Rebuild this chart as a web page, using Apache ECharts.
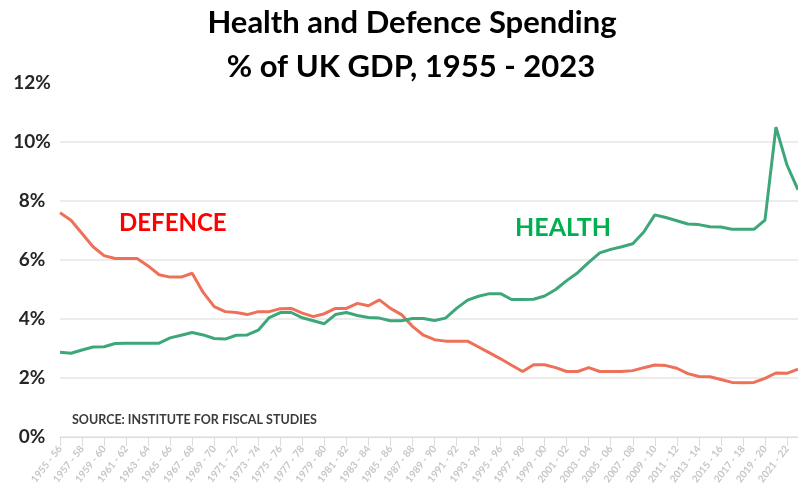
<!DOCTYPE html>
<html><head><meta charset="utf-8">
<script src="https://cdn.jsdelivr.net/npm/echarts@6/dist/echarts.min.js"></script>
<style>html,body{margin:0;padding:0;background:#fff}#c{width:798px;height:503px}</style>
</head><body><div id="c"></div>
<script>
const titleLine1 = 'Health and Defence Spending';
const titleLine2 = '% of UK GDP, 1955 - 2023';
const sourceNote = 'SOURCE: INSTITUTE FOR FISCAL STUDIES';
const categories = [
 '1955 - 56','1956 - 57','1957 - 58','1958 - 59','1959 - 60','1960 - 61','1961 - 62','1962 - 63','1963 - 64','1964 - 65',
 '1965 - 66','1966 - 67','1967 - 68','1968 - 69','1969 - 70','1970 - 71','1971 - 72','1972 - 73','1973 - 74','1974 - 75',
 '1975 - 76','1976 - 77','1977 - 78','1978 - 79','1979 - 80','1980 - 81','1981 - 82','1982 - 83','1983 - 84','1984 - 85',
 '1985 - 86','1986 - 87','1987 - 88','1988 - 89','1989 - 90','1990 - 91','1991 - 92','1992 - 93','1993 - 94','1994 - 95',
 '1995 - 96','1996 - 97','1997 - 98','1998 - 99','1999 - 00','2000 - 01','2001 - 02','2002 - 03','2003 - 04','2004 - 05',
 '2005 - 06','2006 - 07','2007 - 08','2008 - 09','2009 - 10','2010 - 11','2011 - 12','2012 - 13','2013 - 14','2014 - 15',
 '2015 - 16','2016 - 17','2017 - 18','2018 - 19','2019 - 20','2020 - 21','2021 - 22','2022 - 23'
];
const defence = [
 7.60,7.35,6.90,6.45,6.15,6.05,6.05,6.05,5.80,5.50,
 5.42,5.42,5.55,4.90,4.42,4.25,4.22,4.15,4.25,4.25,
 4.35,4.36,4.20,4.08,4.18,4.36,4.36,4.53,4.45,4.65,
 4.36,4.15,3.75,3.45,3.30,3.25,3.25,3.25,3.05,2.85,
 2.65,2.43,2.22,2.45,2.45,2.35,2.22,2.22,2.35,2.22,
 2.22,2.22,2.25,2.35,2.44,2.42,2.33,2.15,2.05,2.04,
 1.95,1.85,1.84,1.85,1.99,2.17,2.16,2.30
];
const health = [
 2.87,2.84,2.95,3.05,3.06,3.17,3.18,3.18,3.18,3.18,
 3.36,3.45,3.54,3.46,3.34,3.32,3.45,3.46,3.62,4.05,
 4.22,4.22,4.04,3.94,3.84,4.15,4.22,4.12,4.05,4.03,
 3.94,3.94,4.02,4.02,3.95,4.03,4.36,4.64,4.77,4.86,
 4.86,4.66,4.66,4.67,4.78,5.00,5.30,5.57,5.92,6.24,
 6.36,6.45,6.55,6.95,7.53,7.44,7.33,7.22,7.20,7.13,
 7.12,7.04,7.04,7.04,7.35,10.50,9.22,8.38
];
const chart = echarts.init(document.getElementById('c'), null, {renderer: 'canvas'});
chart.setOption({
  animation: false,
  backgroundColor: '#ffffff',
  title: [
    {text: titleLine1, left: 407, top: 2, textAlign: 'center',
     textStyle: {fontFamily: 'Lato', fontWeight: 'bold', fontSize: 31, color: '#000'}},
    {text: titleLine2, left: 406, top: 46, textAlign: 'center',
     textStyle: {fontFamily: 'Lato', fontWeight: 'bold', fontSize: 31, color: '#000'}}
  ],
  grid: {left: 60, right: -2, top: 83, bottom: 66, containLabel: false},
  xAxis: {
    type: 'category', boundaryGap: false, data: categories,
    axisLine: {show: true, lineStyle: {color: '#dcdcdc', width: 1}},
    axisTick: {show: true, interval: 1, length: 9, lineStyle: {color: '#dcdcdc'}},
    axisLabel: {interval: 1, rotate: 52, color: '#c6c6c6', fontSize: 10, fontWeight: 'bold',
      fontFamily: 'Lato', margin: 10}
  },
  yAxis: {
    type: 'value', min: 0, max: 12, interval: 2,
    axisLine: {show: false}, axisTick: {show: false},
    axisLabel: {formatter: '{value}%', color: '#262626', fontSize: 19, fontWeight: 'bold',
      fontFamily: 'Lato', align: 'center', margin: 28},
    splitLine: {show: true, showMaxLine: false, lineStyle: {color: '#ececec', width: 2}}
  },
  series: [
    {name: 'Defence', type: 'line', data: defence, symbol: 'none', smooth: false,
     lineStyle: {color: '#ef7058', width: 3}, itemStyle: {color: '#ef7058'}},
    {name: 'Health', type: 'line', data: health, symbol: 'none', smooth: false,
     lineStyle: {color: '#3ea77a', width: 3}, itemStyle: {color: '#3ea77a'}}
  ],
  graphic: [
    {type: 'text', x: 119, y: 223, style: {text: 'DEFENCE', fill: '#ff0000',
      font: 'bold 24px Lato', verticalAlign: 'middle'}},
    {type: 'text', x: 515, y: 228, style: {text: 'HEALTH', fill: '#00b050',
      font: 'bold 25px Lato', verticalAlign: 'middle'}},
    {type: 'text', x: 72, y: 420, style: {text: sourceNote, fill: '#3b3b3b',
      font: 'bold 12.5px Lato', verticalAlign: 'middle'}}
  ]
});
</script>
</body></html>
